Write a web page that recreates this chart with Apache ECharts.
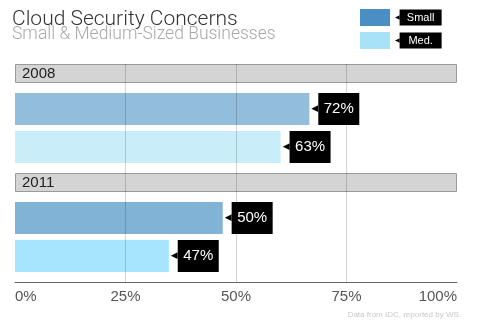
<!DOCTYPE html>
<html><head><meta charset="utf-8">
<script src="https://cdn.jsdelivr.net/npm/echarts@6/dist/echarts.min.js"></script>
<style>html,body{margin:0;padding:0;background:#fff}#c{width:478px;height:326px}</style>
</head><body><div id="c"></div>
<script>
const years = ['2008', '2011'];
// bar lengths as drawn in the picture (percent of axis)
const smallBar = [66.6, 47.0];
const medBar = [60.1, 34.8];
// values printed in the callouts
const smallLabel = [72, 50];
const medLabel = [63, 47];
const xTicks = [0, 25, 50, 75, 100];
const smallColors = ['#93bedb', '#80b3d6'];
const medColors = ['#c9eefa', '#a6e5fb'];

const chart = echarts.init(document.getElementById('c'), null, {renderer: 'canvas'});
const font = '"Liberation Sans", Arial, Helvetica, sans-serif';
const light = 'Roboto, "Liberation Sans", sans-serif';

function callout(labels) {
  return {
    show: true, position: 'right', distance: 2,
    formatter: p => '{p|◀}{b|' + labels[p.dataIndex] + '%}',
    rich: {
      p: {color: '#000', fontSize: 9, fontFamily: 'DejaVu Sans'},
      b: {backgroundColor: '#000', color: '#fff', fontSize: 15, fontFamily: font,
          width: 41, height: 32, lineHeight: 32, align: 'center'}
    }
  };
}
let spN = 0;
function spacer(w) {
  spN += 1;
  return {type: 'bar', name: '_sp' + spN, data: years.map(() => 0), barWidth: w,
          itemStyle: {color: 'transparent'}, silent: true, label: {show: false}};
}

chart.setOption({
  animation: false,
  textStyle: {fontFamily: font},
  title: [
    {text: 'Cloud Security Concerns', left: 12, top: 9, padding: 0,
     textStyle: {fontSize: 21, fontWeight: 300, color: '#333', fontFamily: light}},
    {text: 'Small & Medium-Sized Businesses', left: 12, top: 26, padding: 0,
     textStyle: {fontSize: 17.5, fontWeight: 300, color: '#a8a8a8', fontFamily: light}},
    {text: 'Data from IDC, reported by WS.', right: 17, top: 311, padding: 0,
     textStyle: {fontSize: 8, fontWeight: 'normal', color: '#c8c8c8', fontFamily: font}}
  ],
  legend: {
    orient: 'vertical', left: 360, top: 9, padding: 0, itemWidth: 30, itemHeight: 17, itemGap: 6,
    icon: 'rect', selectedMode: false,
    data: [{name: 'Small', itemStyle: {color: '#4a8fc4'}}, {name: 'Med.', itemStyle: {color: '#a8e2f9'}}],
    formatter: n => '{p|◀}{b|' + n + '}',
    textStyle: {
      rich: {
        p: {color: '#000', fontSize: 6, fontFamily: 'DejaVu Sans'},
        b: {backgroundColor: '#000', color: '#fff', fontSize: 11, fontFamily: font,
            width: 42, height: 16, lineHeight: 16, align: 'center'}
      }
    }
  },
  grid: {left: 15, right: 21, top: 64, bottom: 44, containLabel: false},
  xAxis: {
    type: 'value', min: 0, max: 100, interval: 25,
    axisLine: {show: true, lineStyle: {color: '#666', width: 1}},
    axisTick: {show: false},
    splitLine: {show: false},
    axisLabel: {formatter: v => v + '%', fontSize: 15, color: '#555', margin: 7,
                alignMinLabel: 'left', alignMaxLabel: 'right', fontFamily: font}
  },
  yAxis: {type: 'category', data: years, inverse: true, show: false},
  series: [
    {type: 'bar', name: 'header', data: years.map(() => 100), barWidth: 19, barGap: '0%', silent: true,
     itemStyle: {color: '#d4d4d4', borderColor: '#9a9a9a', borderWidth: 1},
     label: {show: true, position: 'insideLeft', distance: 7, formatter: p => p.name,
             color: '#222', fontSize: 15, fontFamily: font},
     markLine: {silent: true, symbol: 'none', label: {show: false},
                lineStyle: {color: 'rgba(0,0,0,0.17)', width: 1, type: 'solid'},
                data: xTicks.slice(1, -1).map(v => ({xAxis: v}))}},
    spacer(10),
    {type: 'bar', name: 'Small', barWidth: 32, barGap: '0%',
     data: smallBar.map((v, i) => ({value: v, itemStyle: {color: smallColors[i]}})),
     label: callout(smallLabel)},
    spacer(6),
    {type: 'bar', name: 'Med.', barWidth: 32, barGap: '0%',
     data: medBar.map((v, i) => ({value: v, itemStyle: {color: medColors[i]}})),
     label: callout(medLabel)},
    spacer(10)
  ]
});
</script></body></html>
